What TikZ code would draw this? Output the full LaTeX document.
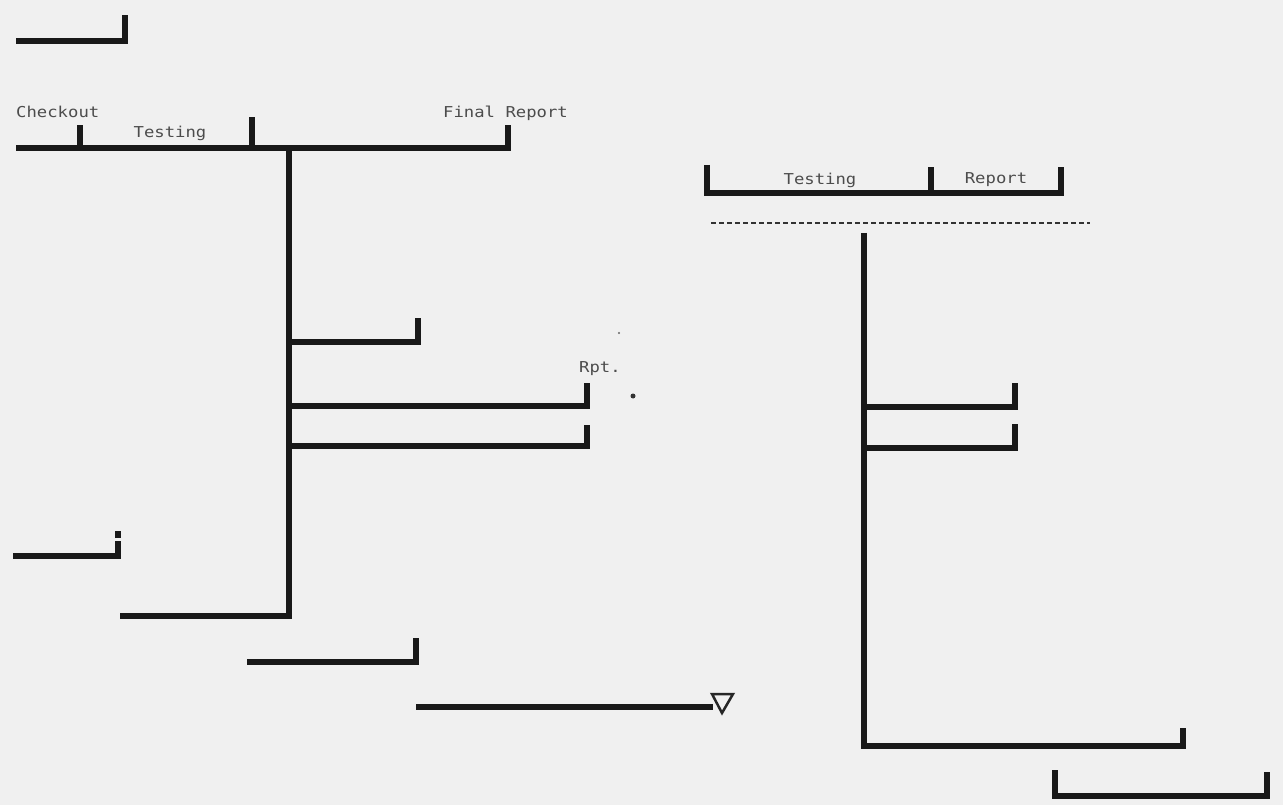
\documentclass[tikz,border=0pt]{standalone}
\usepackage{fontspec}
\newfontfamily\chartfont[FakeStretch=1.15]{DejaVu Sans Mono}
\begin{document}
\begin{tikzpicture}[x=1pt,y=-1pt,
  bar/.style={line width=5.5pt,line cap=butt,line join=miter,color=black!90},
  lbl/.style={font=\chartfont\fontsize{15}{15}\selectfont,text=black!70,inner sep=0pt}]
\fill[black!6] (0,0) rectangle (1283,805);
\useasboundingbox (0,0) rectangle (1283,805);
% top-left
\draw[bar] (16,41) -- (125,41) -- (125,15);
% main timeline
\draw[bar] (16,148) -- (508,148) -- (508,125);
\draw[bar] (80,148) -- (80,125);
\draw[bar] (252,148) -- (252,117);
\node[lbl,anchor=west] (chk) at (16,112) {Checkout};
\node[lbl] (tst1) at (170,133) {Testing};
\node[lbl,anchor=west] (fin) at (443,113) {Final Report};
% main vertical
\draw[bar] (289,148) -- (289,616) -- (120,616);
\draw[bar] (289,342) -- (418,342) -- (418,318);
\draw[bar] (289,406) -- (587,406) -- (587,383);
\draw[bar] (289,446) -- (587,446) -- (587,425);
\node[lbl,anchor=west] (rpt) at (579,369) {Rpt.};
\fill[black!80] (633,396) circle (2.5);
\fill[black!60] (619,333) circle (1.2);
% left pieces
\draw[bar] (13,556) -- (118,556) -- (118,541);
\draw[bar] (118,538) -- (118,531);
\draw[bar] (247,662) -- (416,662) -- (416,638);
\draw[bar] (416,707) -- (713,707);
\draw[line width=2.5pt,black!85,line join=miter] (712,694) -- (733,694) -- (722,713) -- cycle;
% right section
\draw[bar] (707,165) -- (707,193) -- (1061,193) -- (1061,167);
\draw[bar] (931,193) -- (931,167);
\node[lbl] (tst2) at (820,180) {Testing};
\node[lbl] (rep) at (996,180) {Report};
\draw[line width=1.5pt,black!80,dash pattern=on 5pt off 3pt] (711,223) -- (1090,223);
\draw[bar] (864,233) -- (864,746) -- (1183,746) -- (1183,728);
\draw[bar] (864,407) -- (1015,407) -- (1015,383);
\draw[bar] (864,448) -- (1015,448) -- (1015,424);
\draw[bar] (1055,770) -- (1055,796) -- (1267,796) -- (1267,772);
\end{tikzpicture}
\end{document}
